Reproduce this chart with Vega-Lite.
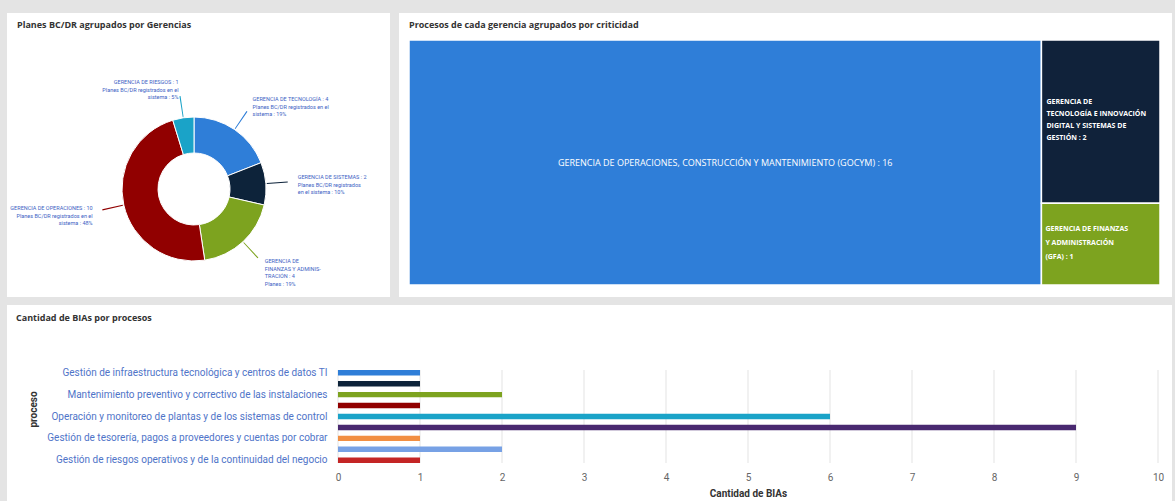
{
  "$schema": "https://vega.github.io/schema/vega-lite/v6.json",
  "background": "#e4e4e4",
  "padding": {"left": 7, "top": 13, "right": 3, "bottom": 0},
  "config": {
    "view": {"fill": "white", "stroke": null},
    "font": "Roboto",
    "title": {"anchor": "start", "orient": "top", "baseline": "middle", "font": "Open Sans", "fontSize": 9, "fontWeight": "bold", "color": "#333333", "offset": -17, "dx": 10}
  },
  "datasets": {
    "gerencias": [
      {"orden": 1, "gerencia": "GERENCIA DE TECNOLOGÍA", "planes": 4, "etiqueta": "GERENCIA DE TECNOLOGÍA : 4\nPlanes BC/DR registrados en el\nsistema : 19%"},
      {"orden": 2, "gerencia": "GERENCIA DE SISTEMAS", "planes": 2, "etiqueta": "GERENCIA DE SISTEMAS : 2\nPlanes BC/DR registrados\nen el sistema : 10%"},
      {"orden": 3, "gerencia": "GERENCIA DE FINANZAS", "planes": 4, "etiqueta": "GERENCIA DE\nFINANZAS Y ADMINIS-\nTRACIÓN : 4\nPlanes : 19%"},
      {"orden": 4, "gerencia": "GERENCIA DE OPERACIONES", "planes": 10, "etiqueta": "GERENCIA DE OPERACIONES : 10\nPlanes BC/DR registrados en el\nsistema : 48%"},
      {"orden": 5, "gerencia": "GERENCIA DE RIESGOS", "planes": 1, "etiqueta": "GERENCIA DE RIESGOS : 1\nPlanes BC/DR registrados en el\nsistema : 5%"}
    ],
    "criticidad": [
      {"gerencia": "GERENCIA DE OPERACIONES", "procesos": 16, "etiqueta": "GERENCIA DE OPERACIONES, CONSTRUCCIÓN Y MANTENIMIENTO (GOCYM) : 16"},
      {"gerencia": "GERENCIA DE TECNOLOGÍA", "procesos": 2, "etiqueta": "GERENCIA DE\nTECNOLOGÍA E INNOVACIÓN\nDIGITAL Y SISTEMAS DE\nGESTIÓN : 2"},
      {"gerencia": "GERENCIA DE FINANZAS", "procesos": 1, "etiqueta": "GERENCIA DE FINANZAS\nY ADMINISTRACIÓN\n(GFA) : 1"}
    ],
    "bias": [
      {"proceso": "Gestión de infraestructura tecnológica y centros de datos TI", "cantidad": 1},
      {"proceso": "Administración de redes y de las comunicaciones corporativas", "cantidad": 1},
      {"proceso": "Mantenimiento preventivo y correctivo de las instalaciones", "cantidad": 2},
      {"proceso": "Gestión de compras, contratos y de los proveedores críticos", "cantidad": 1},
      {"proceso": "Operación y monitoreo de plantas y de los sistemas de control", "cantidad": 6},
      {"proceso": "Construcción y supervisión de las obras de infraestructura", "cantidad": 9},
      {"proceso": "Gestión de tesorería, pagos a proveedores y cuentas por cobrar", "cantidad": 1},
      {"proceso": "Atención al cliente y gestión de los reclamos comerciales", "cantidad": 2},
      {"proceso": "Gestión de riesgos operativos y de la continuidad del negocio", "cantidad": 1}
    ],
    "marcas": [
      {"v": 0}, {"v": 1}, {"v": 2}, {"v": 3}, {"v": 4}, {"v": 5}, {"v": 6}, {"v": 7}, {"v": 8}, {"v": 9}, {"v": 10}
    ]
  },
  "resolve": {"scale": {"color": "independent"}},
  "vconcat": [
    {
      "resolve": {"scale": {"color": "independent"}},
      "bounds": "flush",
      "hconcat": [
        {
          "width": 383,
          "height": 284,
          "title": {"text": "Planes BC/DR agrupados por Gerencias"},
          "data": {"name": "gerencias"},
          "transform": [
            {"window": [{"op": "sum", "field": "planes", "as": "cum"}], "sort": [{"field": "orden"}], "frame": [null, 0]},
            {"joinaggregate": [{"op": "sum", "field": "planes", "as": "total"}]},
            {"calculate": "2 * PI * (datum.cum - datum.planes) / datum.total", "as": "a0"},
            {"calculate": "2 * PI * datum.cum / datum.total", "as": "a1"},
            {"calculate": "(datum.a0 + datum.a1) / 2", "as": "am"},
            {"calculate": "datum.am - 0.006", "as": "c0"},
            {"calculate": "datum.am + 0.006", "as": "c1"}
          ],
          "layer": [
            {
              "data": {"values": [{"panel": "fondo"}]},
              "transform": [],
              "mark": {"type": "rect", "color": "white"},
              "encoding": {
                "x": {"datum": 0, "type": "quantitative", "axis": null, "scale": {"domain": [0, 1], "nice": false, "zero": false}},
                "x2": {"datum": 1},
                "y": {"datum": 0, "type": "quantitative", "axis": null, "scale": {"domain": [0, 1], "nice": false, "zero": false}},
                "y2": {"datum": 1}
              }
            },
            {
              "mark": {"type": "arc", "innerRadius": 36, "outerRadius": 72, "stroke": "white", "strokeWidth": 1, "xOffset": -4.5, "yOffset": 34},
              "encoding": {
                "theta": {"field": "a0", "type": "quantitative", "scale": null},
                "theta2": {"field": "a1"},
                "color": {"field": "gerencia", "type": "nominal", "legend": null,
                  "scale": {"domain": ["GERENCIA DE TECNOLOGÍA", "GERENCIA DE SISTEMAS", "GERENCIA DE FINANZAS", "GERENCIA DE OPERACIONES", "GERENCIA DE RIESGOS"],
                            "range": ["#2f7ed8", "#0d233a", "#7da31f", "#910000", "#1aa3c8"]}}
              }
            },
            {
              "mark": {"type": "arc", "innerRadius": 73, "outerRadius": 94, "xOffset": -4.5, "yOffset": 34},
              "encoding": {
                "theta": {"field": "c0", "type": "quantitative", "scale": null},
                "theta2": {"field": "c1"},
                "color": {"field": "gerencia", "type": "nominal", "legend": null}
              }
            },
            {
              "transform": [{"filter": "datum.am <= PI"}],
              "mark": {"type": "text", "radius": 104, "align": "left", "baseline": "middle", "fontSize": 5.5, "color": "#3d62c4", "lineBreak": "\n", "xOffset": -4.5, "yOffset": 30},
              "encoding": {
                "theta": {"field": "am", "type": "quantitative", "scale": null},
                "text": {"field": "etiqueta"}
              }
            },
            {
              "transform": [{"filter": "datum.am > PI"}],
              "mark": {"type": "text", "radius": 104, "align": "right", "baseline": "middle", "fontSize": 5.5, "color": "#3d62c4", "lineBreak": "\n", "xOffset": -4.5, "yOffset": 30},
              "encoding": {
                "theta": {"field": "am", "type": "quantitative", "scale": null},
                "text": {"field": "etiqueta"}
              }
            }
          ]
        },
        {
          "width": 773,
          "height": 284,
          "title": {"text": "Procesos de cada gerencia agrupados por criticidad"},
          "data": {"name": "criticidad"},
          "transform": [
            {"joinaggregate": [{"op": "max", "field": "procesos", "as": "maxv"}, {"op": "sum", "field": "procesos", "as": "total"}]},
            {"calculate": "datum.procesos == datum.maxv ? 0 : 1", "as": "col"},
            {"calculate": "datum.col == 0 ? 0 : datum.maxv", "as": "x0"},
            {"calculate": "datum.col == 0 ? datum.maxv : datum.total", "as": "x1"},
            {"stack": "procesos", "groupby": ["col"], "offset": "normalize", "sort": [{"field": "procesos", "order": "descending"}], "as": ["y0", "y1"]},
            {"calculate": "(datum.x0 + datum.x1) / 2", "as": "xm"},
            {"calculate": "(datum.y0 + datum.y1) / 2", "as": "ym"}
          ],
          "encoding": {
            "x": {"field": "x0", "type": "quantitative", "axis": null, "scale": {"range": [10, 761], "nice": false, "zero": true}},
            "y": {"field": "y0", "type": "quantitative", "axis": null, "scale": {"range": [27, 272], "nice": false, "domain": [0, 1]}}
          },
          "layer": [
            {
              "mark": {"type": "rect", "stroke": "white", "strokeWidth": 1.5},
              "encoding": {
                "x2": {"field": "x1"},
                "y2": {"field": "y1"},
                "color": {"field": "gerencia", "type": "nominal", "legend": null,
                  "scale": {"domain": ["GERENCIA DE OPERACIONES", "GERENCIA DE TECNOLOGÍA", "GERENCIA DE FINANZAS"], "range": ["#2f7ed8", "#10223a", "#7da31f"]}}
              }
            },
            {
              "transform": [{"filter": "datum.col == 0"}],
              "mark": {"type": "text", "color": "white", "fontSize": 9, "font": "Open Sans", "align": "center", "baseline": "middle"},
              "encoding": {
                "x": {"field": "xm", "type": "quantitative"},
                "y": {"field": "ym", "type": "quantitative"},
                "text": {"field": "etiqueta"}
              }
            },
            {
              "transform": [{"filter": "datum.procesos == 2"}],
              "mark": {"type": "text", "color": "white", "fontSize": 7, "fontWeight": "bold", "font": "Open Sans", "align": "left", "baseline": "middle", "dx": 5, "dy": -20, "lineHeight": 12, "lineBreak": "\n"},
              "encoding": {
                "y": {"field": "ym", "type": "quantitative"},
                "text": {"field": "etiqueta"}
              }
            },
            {
              "transform": [{"filter": "datum.procesos == 1"}],
              "mark": {"type": "text", "color": "white", "fontSize": 7, "fontWeight": "bold", "font": "Open Sans", "align": "left", "baseline": "middle", "dx": 4, "dy": -15, "lineHeight": 14, "lineBreak": "\n"},
              "encoding": {
                "y": {"field": "ym", "type": "quantitative"},
                "text": {"field": "etiqueta"}
              }
            }
          ]
        }
      ],
      "spacing": 9
    },
    {
      "width": 1165,
      "height": 196,
      "title": {"text": "Cantidad de BIAs por  procesos", "offset": -18, "dx": 9},
      "layer": [
        {
          "data": {"name": "marcas"},
          "mark": {"type": "rule", "color": "#e3e3e3", "strokeWidth": 1},
          "encoding": {
            "x": {"field": "v", "type": "quantitative"},
            "y": {"datum": "Gestión de infraestructura tecnológica y centros de datos TI", "type": "nominal", "bandPosition": 0},
            "y2": {"datum": "Gestión de riesgos operativos y de la continuidad del negocio", "bandPosition": 1}
          }
        },
        {
          "data": {"name": "bias"},
          "mark": {"type": "bar"},
          "encoding": {
            "color": {
              "field": "proceso", "type": "nominal", "sort": null, "legend": null,
              "scale": {"range": ["#2f7ed8", "#0d233a", "#7da31f", "#910000", "#1aa3c8", "#492970", "#f28f43", "#77a1e5", "#c42525"]}
            }
          }
        }
      ],
      "encoding": {
        "y": {
          "field": "proceso", "type": "nominal",
          "scale": {
            "domain": [
              "Gestión de infraestructura tecnológica y centros de datos TI",
              "Administración de redes y de las comunicaciones corporativas",
              "Mantenimiento preventivo y correctivo de las instalaciones",
              "Gestión de compras, contratos y de los proveedores críticos",
              "Operación y monitoreo de plantas y de los sistemas de control",
              "Construcción y supervisión de las obras de infraestructura",
              "Gestión de tesorería, pagos a proveedores y cuentas por cobrar",
              "Atención al cliente y gestión de los reclamos comerciales",
              "Gestión de riesgos operativos y de la continuidad del negocio"
            ],
            "range": [60, 163], "paddingInner": 0.5, "paddingOuter": 0.46},
          "axis": {"title": "proceso", "titleFontWeight": "bold", "titleFontSize": 10, "titleColor": "#333333", "titleX": -300, "titleY": 104,
                   "labelLimit": 320, "labelFontSize": 10, "labelColor": "#4f74c8", "labelPadding": 11, "offset": -331,
                   "domain": false, "ticks": false, "grid": false, "labelOverlap": "parity", "labelSeparation": 4}
        },
        "x": {
          "field": "cantidad", "type": "quantitative",
          "scale": {"domain": [0, 10], "range": [331, 1151]},
          "axis": {"title": "Cantidad de BIAs", "titleFontWeight": "bold", "titleFontSize": 10, "titleColor": "#333333", "titlePadding": 6,
                   "tickCount": 10, "labelColor": "#666666", "labelFontSize": 10, "labelPadding": 3, "offset": -32,
                   "domain": false, "ticks": false, "tickSize": 0, "grid": false, "labelFlush": false}
        }
      }
    }
  ],
  "spacing": 8
}
